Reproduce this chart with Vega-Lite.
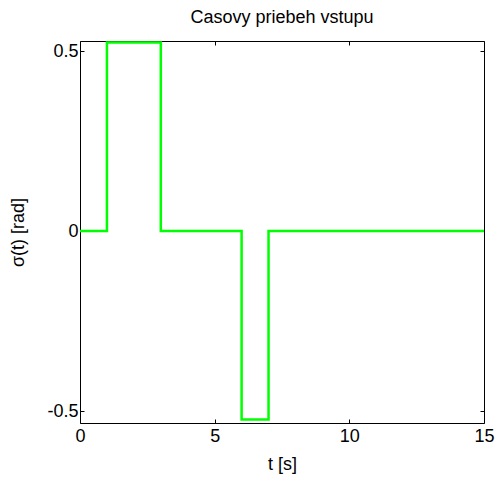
{
  "$schema": "https://vega.github.io/schema/vega-lite/v6.json",
  "autosize": {"type": "none"},
  "padding": {"left": 80, "top": 41, "right": 13, "bottom": 59},
  "width": 404,
  "height": 382,
  "background": "white",
  "config": {
    "font": "Liberation Sans",
    "view": {"stroke": "black", "strokeWidth": 1},
    "axis": {
      "grid": false,
      "domain": false,
      "tickColor": "black",
      "tickSize": -4,
      "tickWidth": 1,
      "labelFlush": false,
      "labelOverlap": false,
      "labelColor": "black",
      "labelFont": "Liberation Sans",
      "labelFontSize": 18,
      "titleFont": "Liberation Sans",
      "titleFontSize": 18,
      "titleFontWeight": "normal",
      "titleColor": "black"
    },
    "title": {"font": "Liberation Sans", "fontSize": 18, "fontWeight": "normal", "color": "black"}
  },
  "title": {"text": "Casovy priebeh vstupu", "offset": 14},
  "data": {
    "values": [
      {"t": 0, "sigma": 0},
      {"t": 1, "sigma": 0},
      {"t": 1, "sigma": 0.5236},
      {"t": 3, "sigma": 0.5236},
      {"t": 3, "sigma": 0},
      {"t": 6, "sigma": 0},
      {"t": 6, "sigma": -0.5236},
      {"t": 7, "sigma": -0.5236},
      {"t": 7, "sigma": 0},
      {"t": 15, "sigma": 0}
    ]
  },
  "layer": [
    {
      "mark": {"type": "line", "color": "#00ff00", "strokeWidth": 2.5, "clip": true},
      "encoding": {
        "x": {
          "field": "t", "type": "quantitative",
          "scale": {"domain": [0, 15], "nice": false, "zero": false},
          "axis": {"orient": "bottom", "values": [0, 5, 10, 15], "title": "t [s]", "labelPadding": 8, "titlePadding": 10}
        },
        "y": {
          "field": "sigma", "type": "quantitative",
          "scale": {"domain": [-0.5333, 0.5278], "nice": false, "zero": false},
          "axis": {"orient": "left", "values": [-0.5, 0, 0.5], "title": "σ(t) [rad]", "labelPadding": 6, "titlePadding": 19,
                   "labelExpr": "datum.value == 0 ? '0' : replace(format(datum.value, '.1f'), '−', '-')"}
        },
        "order": {"value": 0}
      }
    },
    {
      "mark": {"type": "line", "opacity": 0},
      "encoding": {
        "x": {
          "field": "t", "type": "quantitative",
          "axis": {"orient": "top", "values": [0, 5, 10, 15], "labels": false, "title": null}
        },
        "y": {
          "field": "sigma", "type": "quantitative",
          "axis": {"orient": "right", "values": [-0.5, 0, 0.5], "labels": false, "title": null}
        }
      }
    }
  ],
  "resolve": {"axis": {"x": "independent", "y": "independent"}}
}
